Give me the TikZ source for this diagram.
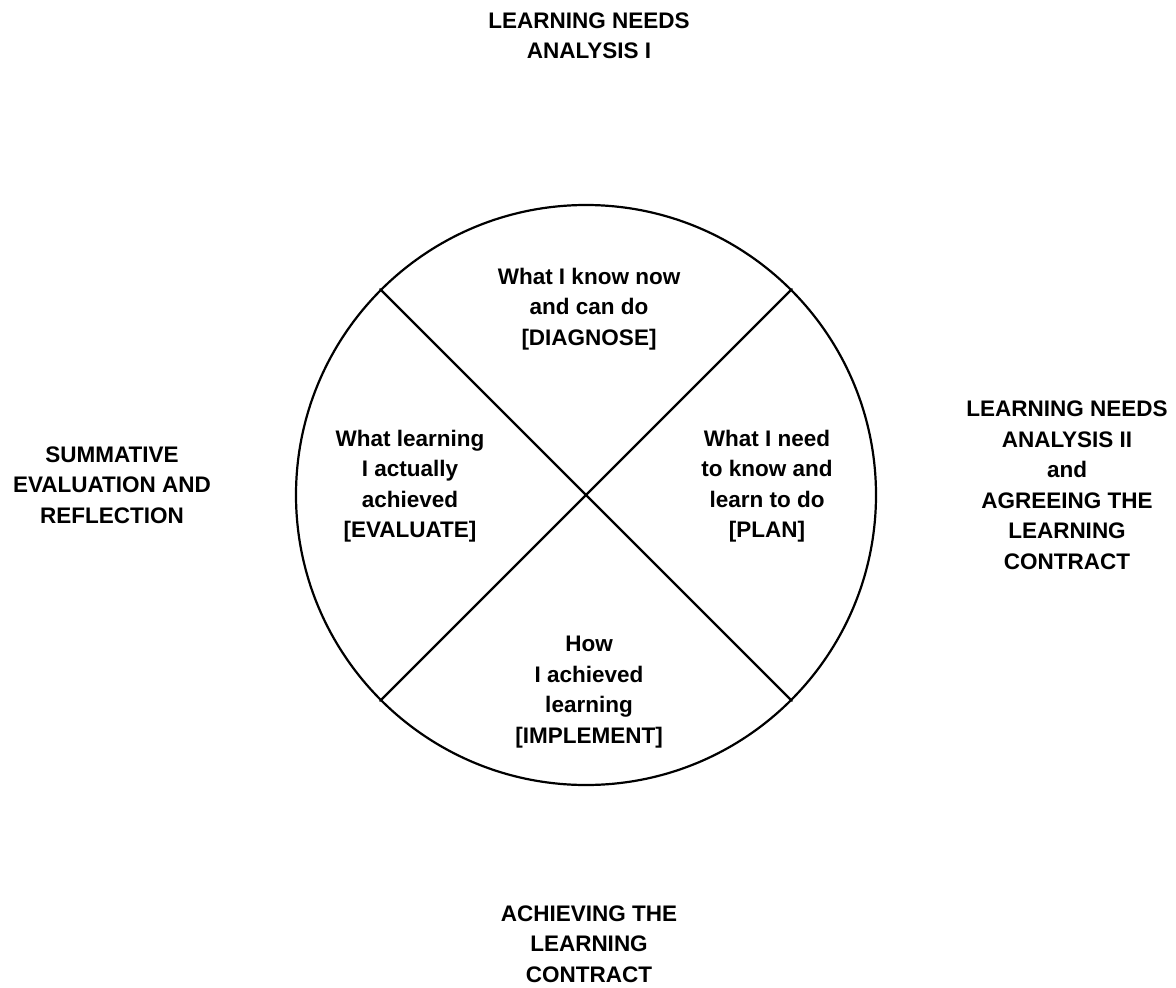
\documentclass[tikz,border=0pt]{standalone}
\usepackage{fontspec}
\setmainfont{Liberation Sans}
\usetikzlibrary{positioning}

\begin{document}
\begin{tikzpicture}[x=1pt,y=-1pt,line cap=round,
  phase/.style={align=center,inner sep=0pt,font=\fontsize{22.5}{30.5}\selectfont\bfseries},
  step label/.style={align=center,inner sep=0pt,font=\fontsize{22.5}{30.5}\selectfont\bfseries}]
\useasboundingbox (0,0) rectangle (1176,988);
% the learning cycle wheel
\node[circle,draw,line width=2.2pt,minimum size=580pt,inner sep=0pt] (wheel) at (586,495) {};
\draw[line width=2.2pt] (wheel.north west) -- (wheel.south east);
\draw[line width=2.2pt] (wheel.north east) -- (wheel.south west);
% quarters of the wheel
\node[step label] (diagnose) at (589,309) {What I know now\\and can do\\{[}DIAGNOSE{]}};
\node[step label] (plan) at (767,486) {What I need\\to know and\\learn to do\\{[}PLAN{]}};
\node[step label] (implement) at (589,692) {How\\I achieved\\learning\\{[}IMPLEMENT{]}};
\node[step label] (evaluate) at (410,486) {What learning\\I actually\\achieved\\{[}EVALUATE{]}};
% phases round the outside
\node[phase] (needsone) at (589,36) {LEARNING NEEDS\\ANALYSIS I};
\node[phase] (needstwo) at (1067,485) {LEARNING NEEDS\\ANALYSIS II\\and\\AGREEING THE\\LEARNING\\CONTRACT};
\node[phase] (achieving) at (589,944) {ACHIEVING THE\\LEARNING\\CONTRACT};
\node[phase] (summative) at (112,485) {SUMMATIVE\\EVALUATION AND\\REFLECTION};
\end{tikzpicture}
\end{document}
